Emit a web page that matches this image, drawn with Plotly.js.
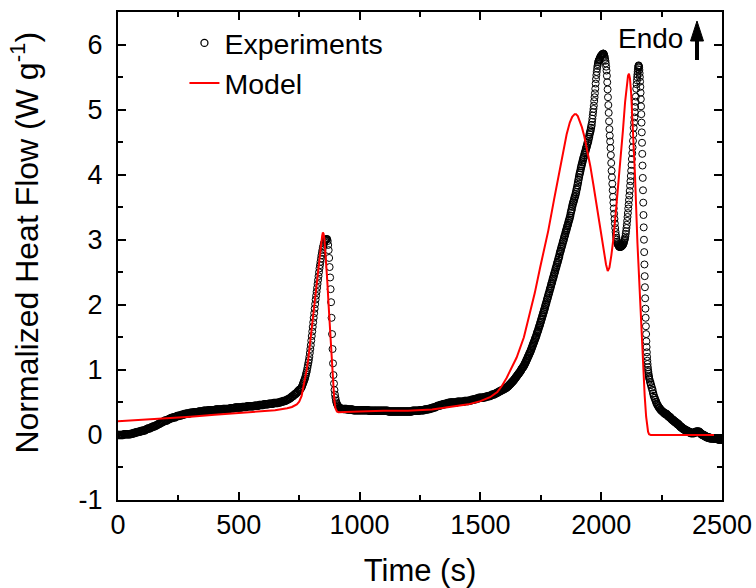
<!DOCTYPE html>
<html>
<head>
<meta charset="utf-8">
<script src="https://cdn.plot.ly/plotly-3.0.1.min.js"></script>
<style>
  html, body { margin: 0; padding: 0; background: #fff; }
  #chart { width: 756px; height: 588px; }
</style>
</head>
<body>
<div id="chart"></div>
<script>
// DSC heat flow: measured trace (open circles) and kinetic model (red line).
// The measured trace is stored in blocks, each with its own sampling step.
const blockStart = [0, 752, 935, 1602, 1962, 2149, 2203, 2262.5];
const blockStep  = [5, 2, 5, 2, 1.5, 1, 3, 2.5];

const flowBlock1 = [ // 0 - 750 s
  0.00, 0.00, 0.00, 0.00, 0.00, 0.01, 0.01, 0.01, 0.01, 0.01,
  0.01, 0.02, 0.02, 0.03, 0.03, 0.04, 0.04, 0.05, 0.05, 0.06,
  0.06, 0.07, 0.07, 0.08, 0.09, 0.10, 0.10, 0.11, 0.12, 0.13,
  0.13, 0.14, 0.15, 0.16, 0.17, 0.18, 0.19, 0.20, 0.21, 0.22,
  0.22, 0.23, 0.24, 0.25, 0.26, 0.26, 0.27, 0.27, 0.28, 0.29,
  0.29, 0.30, 0.30, 0.31, 0.31, 0.32, 0.32, 0.33, 0.33, 0.33,
  0.34, 0.34, 0.34, 0.35, 0.35, 0.35, 0.35, 0.36, 0.36, 0.36,
  0.36, 0.37, 0.37, 0.37, 0.37, 0.38, 0.38, 0.38, 0.38, 0.38,
  0.38, 0.39, 0.39, 0.39, 0.39, 0.39, 0.39, 0.40, 0.40, 0.40,
  0.40, 0.40, 0.40, 0.41, 0.41, 0.41, 0.41, 0.42, 0.42, 0.42,
  0.42, 0.42, 0.42, 0.43, 0.43, 0.43, 0.43, 0.44, 0.44, 0.44,
  0.44, 0.44, 0.44, 0.45, 0.45, 0.45, 0.45, 0.46, 0.46, 0.46,
  0.46, 0.47, 0.47, 0.47, 0.47, 0.48, 0.48, 0.48, 0.48, 0.49,
  0.49, 0.49, 0.49, 0.50, 0.50, 0.51, 0.51, 0.52, 0.52, 0.53,
  0.54, 0.55, 0.56, 0.57, 0.59, 0.60, 0.62, 0.63, 0.65, 0.67,
  0.69
];
const flowBlock2 = [ // 752 - 930 s, first melting peak
  0.69, 0.70, 0.71, 0.72, 0.73, 0.75, 0.77, 0.79, 0.81, 0.83,
  0.85, 0.87, 0.90, 0.93, 0.96, 0.99, 1.03, 1.07, 1.11, 1.15,
  1.20, 1.26, 1.32, 1.38, 1.45, 1.52, 1.59, 1.66, 1.73, 1.80,
  1.87, 1.94, 2.01, 2.08, 2.14, 2.20, 2.26, 2.32, 2.38, 2.44,
  2.50, 2.56, 2.61, 2.66, 2.71, 2.76, 2.80, 2.84, 2.88, 2.91,
  2.94, 2.96, 2.98, 2.99, 3.00, 3.01, 3.01, 3.01, 2.98, 2.92,
  2.84, 2.72, 2.58, 2.42, 2.24, 2.04, 1.80, 1.55, 1.32, 1.10,
  0.92, 0.79, 0.69, 0.62, 0.57, 0.53, 0.50, 0.48, 0.46, 0.45,
  0.44, 0.43, 0.42, 0.42, 0.41, 0.41, 0.41, 0.40, 0.40, 0.40
];
const flowBlock3 = [ // 935 - 1600 s
  0.40, 0.40, 0.40, 0.39, 0.39, 0.39, 0.39, 0.39, 0.38, 0.38,
  0.38, 0.38, 0.38, 0.38, 0.38, 0.38, 0.38, 0.38, 0.38, 0.38,
  0.38, 0.37, 0.37, 0.37, 0.37, 0.37, 0.37, 0.37, 0.37, 0.37,
  0.37, 0.37, 0.37, 0.37, 0.37, 0.37, 0.37, 0.36, 0.36, 0.36,
  0.36, 0.36, 0.36, 0.36, 0.36, 0.36, 0.36, 0.36, 0.36, 0.36,
  0.36, 0.36, 0.36, 0.36, 0.36, 0.36, 0.36, 0.37, 0.37, 0.37,
  0.37, 0.37, 0.37, 0.38, 0.38, 0.38, 0.38, 0.39, 0.39, 0.39,
  0.40, 0.40, 0.41, 0.41, 0.42, 0.42, 0.43, 0.44, 0.45, 0.45,
  0.46, 0.46, 0.47, 0.47, 0.48, 0.48, 0.49, 0.49, 0.50, 0.50,
  0.50, 0.50, 0.50, 0.50, 0.51, 0.51, 0.51, 0.51, 0.51, 0.51,
  0.52, 0.52, 0.52, 0.52, 0.53, 0.53, 0.54, 0.54, 0.55, 0.55,
  0.56, 0.56, 0.57, 0.57, 0.57, 0.57, 0.58, 0.58, 0.59, 0.59,
  0.60, 0.60, 0.61, 0.62, 0.62, 0.63, 0.64, 0.65, 0.66, 0.67,
  0.68, 0.69, 0.70, 0.71
];
const flowBlock4 = [ // 1602 - 1960 s, rise towards the main peak
  0.72, 0.72, 0.72, 0.73, 0.73, 0.74, 0.75, 0.75, 0.76, 0.77,
  0.78, 0.78, 0.79, 0.80, 0.81, 0.82, 0.82, 0.83, 0.84, 0.85,
  0.86, 0.87, 0.88, 0.89, 0.90, 0.91, 0.92, 0.93, 0.94, 0.95,
  0.96, 0.97, 0.98, 0.99, 1.01, 1.02, 1.03, 1.04, 1.05, 1.06,
  1.08, 1.09, 1.11, 1.12, 1.14, 1.16, 1.17, 1.19, 1.21, 1.22,
  1.24, 1.26, 1.27, 1.29, 1.31, 1.33, 1.35, 1.37, 1.39, 1.41,
  1.43, 1.45, 1.47, 1.49, 1.51, 1.53, 1.56, 1.58, 1.60, 1.62,
  1.65, 1.67, 1.69, 1.72, 1.74, 1.77, 1.79, 1.82, 1.84, 1.87,
  1.89, 1.92, 1.94, 1.97, 2.00, 2.02, 2.05, 2.08, 2.10, 2.13,
  2.16, 2.18, 2.21, 2.24, 2.26, 2.29, 2.32, 2.34, 2.37, 2.40,
  2.42, 2.45, 2.48, 2.50, 2.53, 2.56, 2.58, 2.61, 2.64, 2.66,
  2.69, 2.72, 2.74, 2.78, 2.81, 2.83, 2.86, 2.89, 2.91, 2.94,
  2.97, 2.99, 3.02, 3.05, 3.07, 3.10, 3.13, 3.15, 3.18, 3.21,
  3.23, 3.26, 3.29, 3.31, 3.34, 3.37, 3.41, 3.44, 3.47, 3.51,
  3.54, 3.57, 3.59, 3.62, 3.65, 3.67, 3.70, 3.73, 3.77, 3.80,
  3.84, 3.88, 3.92, 3.96, 4.00, 4.03, 4.06, 4.10, 4.13, 4.16,
  4.19, 4.22, 4.25, 4.27, 4.30, 4.33, 4.35, 4.38, 4.41, 4.43,
  4.46, 4.49, 4.51, 4.55, 4.58, 4.62, 4.65, 4.68, 4.72, 4.76
];
const flowBlock5 = [ // 1962 - 2148 s, double peak
  4.81, 4.86, 4.91, 4.96, 5.01, 5.06, 5.13, 5.19, 5.25, 5.32,
  5.40, 5.47, 5.53, 5.58, 5.63, 5.67, 5.70, 5.73, 5.75, 5.76,
  5.77, 5.78, 5.80, 5.81, 5.82, 5.83, 5.83, 5.84, 5.85, 5.85,
  5.86, 5.86, 5.86, 5.85, 5.83, 5.81, 5.78, 5.75, 5.71, 5.66,
  5.60, 5.52, 5.42, 5.31, 5.19, 5.07, 4.95, 4.82, 4.70, 4.60,
  4.51, 4.41, 4.30, 4.18, 4.06, 3.96, 3.86, 3.76, 3.66, 3.57,
  3.48, 3.40, 3.32, 3.25, 3.18, 3.12, 3.07, 3.03, 3.00, 2.97,
  2.95, 2.93, 2.92, 2.91, 2.90, 2.89, 2.89, 2.89, 2.89, 2.89,
  2.89, 2.90, 2.90, 2.91, 2.91, 2.92, 2.93, 2.94, 2.96, 2.98,
  3.00, 3.02, 3.05, 3.09, 3.13, 3.18, 3.23, 3.29, 3.35, 3.41,
  3.48, 3.54, 3.61, 3.68, 3.75, 3.83, 3.90, 3.98, 4.06, 4.15,
  4.24, 4.33, 4.42, 4.52, 4.62, 4.72, 4.80, 4.88, 4.96, 5.04,
  5.12, 5.20, 5.32, 5.39, 5.45
];
const flowBlock6 = [ // 2149 - 2200 s, last peak and drop
  5.50, 5.54, 5.58, 5.62, 5.65, 5.67, 5.68, 5.67, 5.65, 5.61,
  5.56, 5.50, 5.43, 5.35, 5.26, 5.16, 5.05, 4.93, 4.80, 4.65,
  4.49, 4.32, 4.14, 3.95, 3.76, 3.57, 3.38, 3.19, 3.00, 2.81,
  2.62, 2.44, 2.27, 2.10, 1.94, 1.80, 1.67, 1.55, 1.44, 1.35,
  1.27, 1.20, 1.14, 1.09, 1.04, 1.00, 0.97, 0.94, 0.91, 0.89,
  0.87, 0.85
];
const flowBlock7 = [ // 2203 - 2260 s
  0.81, 0.77, 0.73, 0.69, 0.64, 0.60, 0.57, 0.54, 0.51, 0.48,
  0.46, 0.44, 0.42, 0.41, 0.39, 0.38, 0.37, 0.36, 0.35, 0.34
];
const flowBlock8 = [ // 2262.5 - 2500 s
  0.33, 0.33, 0.32, 0.32, 0.31, 0.30, 0.29, 0.28, 0.28, 0.27,
  0.26, 0.25, 0.24, 0.23, 0.23, 0.22, 0.21, 0.20, 0.20, 0.19,
  0.18, 0.17, 0.17, 0.16, 0.15, 0.14, 0.13, 0.12, 0.12, 0.11,
  0.10, 0.09, 0.09, 0.08, 0.08, 0.07, 0.07, 0.06, 0.06, 0.05,
  0.05, 0.04, 0.04, 0.03, 0.03, 0.03, 0.03, 0.03, 0.03, 0.03,
  0.04, 0.04, 0.05, 0.05, 0.05, 0.05, 0.05, 0.05, 0.04, 0.03,
  0.02, 0.01, 0.01, 0.00, 0.00, -0.01, -0.01, -0.02, -0.02, -0.03,
  -0.03, -0.04, -0.04, -0.04, -0.04, -0.05, -0.05, -0.05, -0.05, -0.05,
  -0.05, -0.05, -0.05, -0.06, -0.06, -0.06, -0.06, -0.06, -0.06, -0.07,
  -0.07, -0.07, -0.07, -0.07, -0.07, -0.07
];

// Model curve
const modelTime = [
  0, 100, 200, 300, 400, 500, 600, 650, 700, 720, 740, 750, 760, 767, 775,
  781, 788, 795, 805, 815, 825, 833, 840, 845, 848, 851, 855, 860, 866, 872,
  878, 884, 890, 895, 900, 906, 912, 950, 1000, 1100, 1200, 1300, 1400, 1450, 1500,
  1540, 1570, 1590, 1609, 1630, 1650, 1680, 1705, 1725, 1747, 1765, 1781, 1805, 1830, 1845,
  1857, 1870, 1880, 1890, 1896, 1903, 1912, 1920, 1930, 1940, 1955, 1967, 1980, 1995, 2010,
  2020, 2027, 2034, 2042, 2050, 2060, 2070, 2078, 2090, 2099, 2106, 2111, 2115, 2119, 2124,
  2130, 2140, 2150, 2160, 2170, 2180, 2186, 2190, 2194, 2198, 2205, 2250, 2300, 2400, 2500
];
const modelFlow = [
  0.21, 0.23, 0.25, 0.28, 0.31, 0.34, 0.37, 0.38, 0.41, 0.43, 0.47, 0.51, 0.60, 0.72, 0.85,
  1.00, 1.18, 1.42, 1.72, 2.05, 2.42, 2.70, 2.93, 3.06, 3.11, 3.09, 2.98, 2.75, 2.38, 1.98,
  1.60, 1.22, 0.85, 0.55, 0.41, 0.36, 0.35, 0.35, 0.36, 0.37, 0.37, 0.39, 0.44, 0.47, 0.52,
  0.58, 0.66, 0.76, 0.88, 1.03, 1.19, 1.50, 1.86, 2.18, 2.57, 2.87, 3.14, 3.62, 4.11, 4.40,
  4.62, 4.80, 4.89, 4.93, 4.93, 4.90, 4.82, 4.73, 4.59, 4.42, 4.13, 3.86, 3.55, 3.19, 2.85,
  2.62, 2.52, 2.57, 2.76, 3.00, 3.40, 3.80, 4.11, 4.68, 5.12, 5.40, 5.52, 5.55, 5.48, 5.25,
  4.85, 3.98, 2.95, 2.10, 1.25, 0.60, 0.28, 0.13, 0.05, 0.01, 0.00, 0.00, 0.00, 0.00, 0.00
];

// Axis ticks
const xTickVals = [0, 500, 1000, 1500, 2000, 2500];
const xTickText = ['0', '500', '1000', '1500', '2000', '2500'];
const yTickVals = [-1, 0, 1, 2, 3, 4, 5, 6];
const yTickText = ['-1', '0', '1', '2', '3', '4', '5', '6'];

// Ring stroke per block: slightly heavier where the samples pile up into a band
const blockRingWidth = [1.5, 1, 1.5, 1.25, 1, 1, 1.25, 1.5];

// Assemble the measured trace from its blocks
const flowBlocks = [flowBlock1, flowBlock2, flowBlock3, flowBlock4,
                    flowBlock5, flowBlock6, flowBlock7, flowBlock8];
const expTime = [];
const expFlow = [];
const ringWidth = [];
flowBlocks.forEach((block, b) => {
  block.forEach((v, i) => {
    expTime.push(blockStart[b] + i * blockStep[b]);
    expFlow.push(v);
    ringWidth.push(blockRingWidth[b]);
  });
});

const FONT = 'Liberation Sans, Arial, sans-serif';

const traces = [
  {
    type: 'scatter',
    mode: 'markers',
    name: 'Experiments',
    x: expTime,
    y: expFlow,
    marker: {
      symbol: 'circle-open',
      size: 7,
      color: '#000',
      line: { width: ringWidth, color: '#000' }
    }
  },
  {
    type: 'scatter',
    mode: 'lines',
    name: 'Model',
    x: modelTime,
    y: modelFlow,
    line: { color: '#ff0000', width: 2 }
  }
];

const axisCommon = {
  showline: true,
  linecolor: '#000',
  linewidth: 2,
  mirror: 'ticks',
  ticks: 'inside',
  ticklen: 8,
  tickwidth: 2,
  tickcolor: '#000',
  showgrid: false,
  zeroline: false,
  tickfont: { family: FONT, size: 27, color: '#000' }
};

// "Endo" direction arrow (shaft + head), in paper coordinates
const arrowShaft = { type: 'line', xref: 'paper', yref: 'paper',
  x0: 0.95861, y0: 0.90164, x1: 0.95861, y1: 0.9467,
  line: { color: '#000', width: 4 } };
const arrowHead = { type: 'path', xref: 'paper', yref: 'paper',
  path: 'M 0.94785 0.94057 L 0.96937 0.94057 L 0.95861 0.98156 Z',
  fillcolor: '#000', line: { color: '#000', width: 1 } };

const layout = {
  width: 756,
  height: 588,
  margin: { l: 118, r: 34, t: 12, b: 88, pad: 0 },
  paper_bgcolor: '#fff',
  plot_bgcolor: '#fff',
  font: { family: FONT, color: '#000' },
  showlegend: true,
  legend: {
    x: 0.11, y: 0.988, xanchor: 'left', yanchor: 'top',
    bgcolor: 'rgba(0,0,0,0)',
    font: { family: FONT, size: 28.5, color: '#000' },
    tracegroupgap: 0
  },
  xaxis: Object.assign({}, axisCommon, {
    range: [0, 2500],
    tickmode: 'array',
    tickvals: xTickVals,
    ticktext: xTickText,
    minor: { tickmode: 'linear', tick0: 0, dtick: 250, ticks: 'inside', ticklen: 5, tickwidth: 2, tickcolor: '#000' },
    title: { text: 'Time (s)', font: { family: FONT, size: 31, color: '#000' }, standoff: 22 }
  }),
  yaxis: Object.assign({}, axisCommon, {
    range: [-1, 6.5],
    tickmode: 'array',
    tickvals: yTickVals,
    ticktext: yTickText,
    ticklabelstandoff: 8,
    minor: { tickmode: 'linear', tick0: 0, dtick: 0.5, ticks: 'inside', ticklen: 5, tickwidth: 2, tickcolor: '#000' },
    title: { text: '&nbsp;&nbsp;&nbsp;Normalized Heat Flow (W g<sup>-1</sup>)', font: { family: FONT, size: 32, color: '#000' }, standoff: 30 }
  }),
  shapes: [arrowShaft, arrowHead],
  annotations: [
    {
      xref: 'paper', yref: 'paper', x: 0.8808, y: 0.9467,
      xanchor: 'center', yanchor: 'middle',
      text: 'Endo', showarrow: false,
      font: { family: FONT, size: 28, color: '#000' }
    }
  ]
};

Plotly.newPlot('chart', traces, layout, { displayModeBar: false, staticPlot: true });
</script>
</body>
</html>
